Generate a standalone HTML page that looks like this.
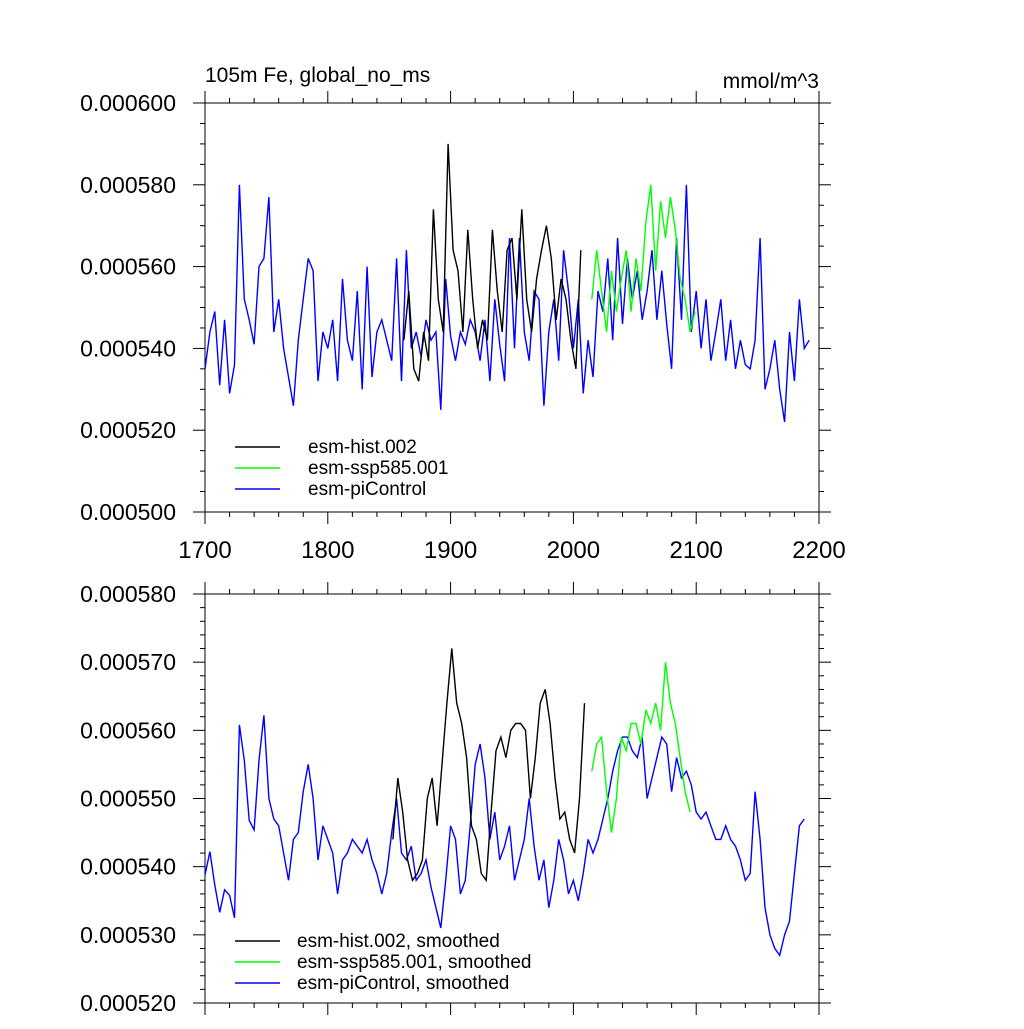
<!DOCTYPE html>
<html><head><meta charset="utf-8"><style>
body{margin:0;background:#fff}
svg text{font-family:"Liberation Sans",sans-serif;fill:#000}
</style></head><body>
<svg id="c" width="1024" height="1024" xmlns="http://www.w3.org/2000/svg"></svg>
<script>
// values in units of 1e-6 mmol/m^3
const piYears0 = 1700, piStep = 4;
const piTop = [535,544,549,531,547,529,536,580,552,547,541,560,562,577,544,552,540,533,526,542,552,562,559,532,544,540,547,532,557,542,537,554,530,560,533,544,547,542,537,562,532,564,540,544,538,547,542,544,525,557,543,537,544,541,547,544,537,547,532,552,541,532,567,540,567,544,537,554,552,526,544,552,537,564,554,540,552,529,542,533,554,549,562,542,567,546,562,552,559,547,554,564,547,559,546,535,567,547,580,544,554,540,552,537,544,552,537,547,535,542,536,535,542,567,530,535,542,530,522,544,532,552,540,542];
const histYear0 = 1862;
const histTop = [542,554,535,532,544,537,574,552,544,590,564,559,544,569,552,540,547,542,569,554,544,564,567,552,574,552,544,557,564,570,562,547,557,552,542,535,564];
const sspYear0 = 2015;
const sspTop = [552,564,554,544,559,549,557,564,549,562,554,571,580,559,576,567,577,569,557,552,544,549];
const piSm = [538.8,542.2,537.3,533.3,536.6,535.8,532.5,560.8,555.6,546.8,545.4,555.6,562.2,550,547,546,542,538,544,545,551,555,550,541,546,544,542,536,541,542,544,543,542,544,541,539,536,539,545,550,542,541,543,538,539,541,537,534,531,538,546,544,536,538,546,555,558,553,544,548,541,543,546,538,541,544,550,543,538,541,534,538,544,541,536,538,535,539,544,542,544,547,550,554,557,559,559,557,556,559,550,553,556,559,558,551,556,553,554,552,548,547,548,546,544,544,546,544,543,541,538,539,551,544,534,530,528,527,530,532,539,546,547];
const histSmYear0 = 1853;
const histSm = [544,553,548,541,538,539,541,550,553,546,555,564,572,564,561,556,546,544,539,538,548,557,559,556,560,561,561,560,550,556,564,566,561,553,547,548,544,542,550,564];
const sspSm = [554,558,559,551,545,550,559,557,561,561,558,563,561,564,560,570,564,561,556,551,548];

const svg=document.getElementById('c');
const NS='http://www.w3.org/2000/svg';
function mk(t,a,p){const e=document.createElementNS(NS,t);for(const k in a)e.setAttribute(k,a[k]);(p||svg).appendChild(e);return e;}
const X0=205,X1=819;
const xs=y=>X0+(y-1700)/500*(X1-X0);
function panel(top,bot,ymin,ymax,major,minor,labels,showX,name){
  const ys=v=>bot-(v-ymin)/(ymax-ymin)*(bot-top);
  const g=mk('g',{});
  
  
  const fr=mk('rect',{x:X0,y:top,width:X1-X0,height:bot-top,fill:'none',stroke:'#000','stroke-width':1},g);
  
  
  for(let yr=1700;yr<=2200;yr+=20){const L=(yr%100===0)?12:5;const x=xs(yr);
    mk('line',{x1:x,x2:x,y1:bot,y2:bot+L,stroke:'#000'},g);mk('line',{x1:x,x2:x,y1:top,y2:top-L,stroke:'#000'},g);
    if(showX&&yr%100===0){const t=mk('text',{x:x,y:bot+46,'font-size':24,'text-anchor':'middle'},g);t.textContent=yr;
      }}
  const n=Math.round((ymax-ymin)/minor);
  for(let i=0;i<=n;i++){const v=ymin+i*minor;const isM=Math.abs(((v-ymin)/major)-Math.round((v-ymin)/major))<1e-6;const L=isM?12:5;const y=ys(v);
    mk('line',{x1:X0,x2:X0-L,y1:y,y2:y,stroke:'#000'},g);mk('line',{x1:X1,x2:X1+L,y1:y,y2:y,stroke:'#000'},g);}
  labels.forEach((lab,i)=>{const v=ymin+i*major;const t=mk('text',{x:176,y:ys(v)+8,'font-size':23,'text-anchor':'end'},g);t.textContent=lab;
    });
  return ys;
}
function series(ys,y0,vals,color,name){
  const d=vals.map((v,i)=>(i?'L':'M')+xs(y0+i*piStep).toFixed(1)+','+ys(v).toFixed(1)).join('');
  const p=mk('path',{d:d,fill:'none',stroke:color,'stroke-width':1.4});
  
  
}
function legend(x,ys0,txt,cols,tx){
  txt.forEach((s,i)=>{const y=ys0+i*21;
    const l=mk('line',{x1:x,x2:x+45,y1:y,y2:y,stroke:cols[i],'stroke-width':1.4});
    
    const t=mk('text',{x:tx,y:y+6,'font-size':19});t.textContent=s;
    });
}
const ysT=panel(103,512,500,600,20,5,['0.000500','0.000520','0.000540','0.000560','0.000580','0.000600'],true,'top-panel');
series(ysT,piYears0,piTop,'#0000ff','picontrol-line');
series(ysT,histYear0,histTop,'#000','hist-line');
series(ysT,sspYear0,sspTop,'#00ff00','ssp585-line');
legend(235,447,['esm-hist.002','esm-ssp585.001','esm-piControl'],['#000','#00ff00','#0000ff'],308);
const ysB=panel(594,1003,520,580,10,2,['0.000520','0.000530','0.000540','0.000550','0.000560','0.000570','0.000580'],false,'bottom-panel');
series(ysB,piYears0,piSm,'#0000ff','picontrol-smoothed-line');
series(ysB,histSmYear0,histSm,'#000','hist-smoothed-line');
series(ysB,sspYear0,sspSm,'#00ff00','ssp585-smoothed-line');
legend(235,941,['esm-hist.002, smoothed','esm-ssp585.001, smoothed','esm-piControl, smoothed'],['#000','#00ff00','#0000ff'],297);
let t=mk('text',{x:205,y:82,'font-size':21});t.textContent='105m Fe, global_no_ms';

t=mk('text',{x:819,y:88,'font-size':21,'text-anchor':'end'});t.textContent='mmol/m^3';

</script>
</body></html>
